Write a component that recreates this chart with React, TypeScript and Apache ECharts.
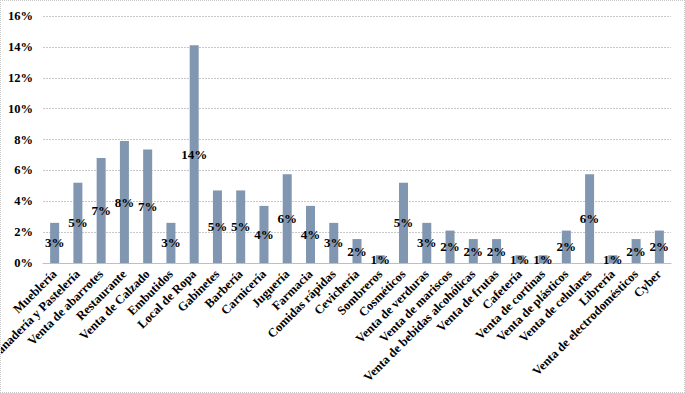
import React, { useEffect, useRef } from "react";
import * as echarts from "echarts";

const categories = [
  "Mueblería", "Panadería y Pastelería", "Venta de abarrotes", "Restaurante", "Venta de Calzado",
  "Embutidos", "Local de Ropa", "Gabinetes", "Barbería", "Carnicería", "Juguería", "Farmacia",
  "Comidas rápidas", "Cevichería", "Sombreros", "Cosméticos", "Venta de verduras",
  "Venta de mariscos", "Venta de bebidas alcohólicas", "Venta de frutas", "Cafetería",
  "Venta de cortinas", "Venta de plásticos", "Venta de celulares", "Librería",
  "Venta de electrodomésticos", "Cyber",
];

const values = [
  2.6, 5.2, 6.8, 7.9, 7.35, 2.6, 14.1, 4.7, 4.7, 3.7, 5.75, 3.7, 2.6, 1.55, 0.5, 5.2, 2.6,
  2.1, 1.55, 1.55, 0.5, 0.5, 2.1, 5.75, 0.5, 1.55, 2.1,
];

const yTicks = [0, 2, 4, 6, 8, 10, 12, 14, 16];

const FONT = "'Liberation Serif', 'Times New Roman', serif";

export default function App() {
  const ref = useRef<HTMLDivElement>(null);
  useEffect(() => {
    if (!ref.current) return;
    const chart = echarts.init(ref.current, null, { renderer: "svg" });
    chart.setOption({
      animation: false,
      backgroundColor: "#ffffff",
      grid: { left: 42, right: 13, top: 15, bottom: 129, containLabel: false, outerBoundsMode: "none" },
      xAxis: {
        type: "category",
        data: categories,
        axisTick: { show: false },
        axisLine: { lineStyle: { color: "#bfbfbf" } },
        axisLabel: {
          rotate: 45,
          interval: 0,
          margin: 9,
          fontFamily: FONT,
          fontWeight: "bold",
          fontSize: 12.5,
          color: "#000",
        },
      },
      yAxis: {
        type: "value",
        min: yTicks[0],
        max: yTicks[yTicks.length - 1],
        interval: 2,
        axisLine: { show: false },
        axisTick: { show: false },
        splitLine: { lineStyle: { color: "#c8c8c8", type: [2, 1] } },
        axisLabel: {
          formatter: (v: number) => v + "%",
          margin: 10,
          fontFamily: FONT,
          fontWeight: "bold",
          fontSize: 12.5,
          color: "#000",
        },
      },
      series: [
        {
          type: "bar",
          data: values,
          barWidth: 9,
          itemStyle: { color: "#8196b0" },
          label: {
            show: true,
            position: "inside",
            formatter: (p: any) => Math.round(p.value) + "%",
            fontFamily: FONT,
            fontWeight: "bold",
            fontSize: 13,
            color: "#000",
            textBorderWidth: 0,
          },
        },
      ],
    });
    return () => chart.dispose();
  }, []);
  return (
    <div
      style={{
        position: "absolute",
        left: 0,
        top: 0,
        width: 685,
        height: 393,
        boxSizing: "border-box",
        border: "1px dotted #c8c8c8",
      }}
    >
      <div ref={ref} style={{ width: 683, height: 391 }} />
    </div>
  );
}
